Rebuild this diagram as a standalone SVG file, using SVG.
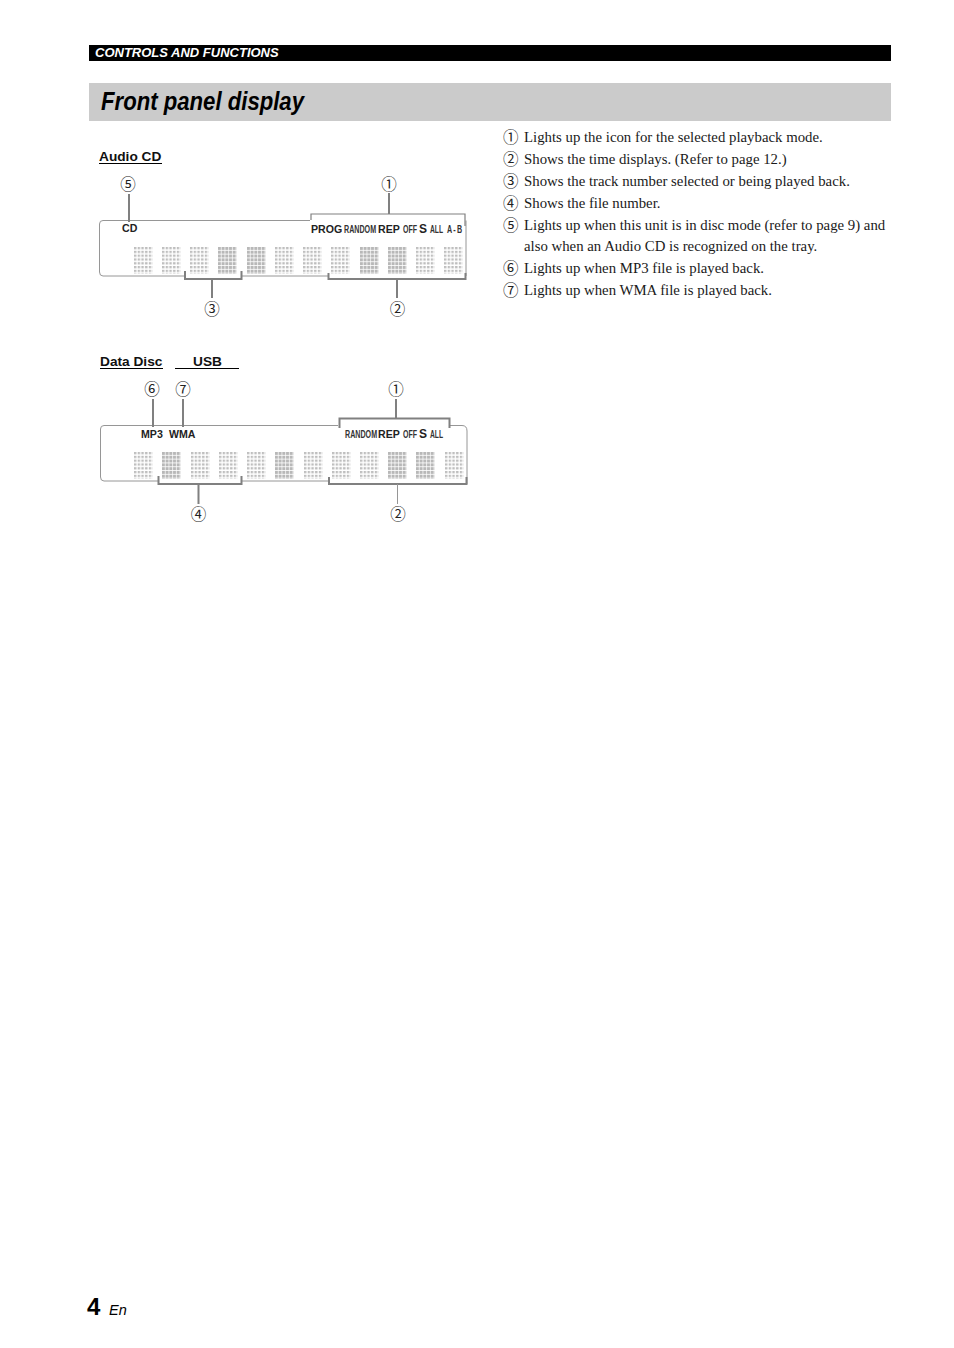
<svg xmlns="http://www.w3.org/2000/svg" width="954" height="1348" viewBox="0 0 954 1348">
<style>
text{font-family:"Liberation Sans",Arial,sans-serif;fill:#000}
.body{font-family:"Liberation Serif","Times New Roman",serif;font-size:14.8px;fill:#1a1a1a}
.num{font-family:"Noto Sans CJK JP",sans-serif;font-size:15.5px;fill:#222}
.cal{font-family:"Noto Sans CJK JP",sans-serif;font-size:15.5px;fill:#222;text-anchor:middle}
.head{font-size:13.7px;font-weight:bold;fill:#111}
.ic{font-weight:bold;fill:#222;font-size:10.6px}
.s{font-weight:bold;fill:#222;font-size:12px}
.nar{font-weight:bold;fill:#333;font-size:10.5px}
.panel{fill:none;stroke:#969696;stroke-width:1}
.thin{fill:none;stroke:#808080;stroke-width:1.200}
.br{fill:none;stroke:#808080;stroke-width:2}
.ul{stroke:#000;stroke-width:1}
</style>
<defs>
<pattern id="dots" width="3.7" height="3.8" patternUnits="userSpaceOnUse"><rect width="2.4" height="2.3" fill="#bebebe"/></pattern>
<pattern id="dense" width="3.7" height="3.8" patternUnits="userSpaceOnUse"><rect width="3" height="3" fill="#b8b8b8"/></pattern>
<rect id="g" width="18.5" height="27" fill="url(#dots)"/>
<rect id="d" width="18.5" height="27" fill="url(#dense)"/>
</defs>
<g id="header">
<rect x="89" y="45" width="802" height="16" fill="#000"/>
<text x="95" y="57" font-size="13" font-weight="bold" font-style="italic" style="fill:#fff">CONTROLS AND FUNCTIONS</text>
<rect x="89" y="83" width="802" height="38" fill="#cbcbcb"/>
<text x="101" y="110" font-size="25" font-weight="bold" font-style="italic" textLength="203" lengthAdjust="spacingAndGlyphs">Front panel display</text>
</g>
<g id="descriptions">
<text class="num" x="503" y="143">①</text><text class="body" x="524" y="142">Lights up the icon for the selected playback mode.</text>
<text class="num" x="503" y="165">②</text><text class="body" x="524" y="164">Shows the time displays. (Refer to page 12.)</text>
<text class="num" x="503" y="187">③</text><text class="body" x="524" y="186">Shows the track number selected or being played back.</text>
<text class="num" x="503" y="209">④</text><text class="body" x="524" y="208">Shows the file number.</text>
<text class="num" x="503" y="231">⑤</text><text class="body" x="524" y="230">Lights up when this unit is in disc mode (refer to page 9) and</text>
<text class="body" x="524" y="251">also when an Audio CD is recognized on the tray.</text>
<text class="num" x="503" y="274">⑥</text><text class="body" x="524" y="273">Lights up when MP3 file is played back.</text>
<text class="num" x="503" y="296">⑦</text><text class="body" x="524" y="295">Lights up when WMA file is played back.</text>
</g>
<g id="audio-cd">
<text class="head" x="99" y="161">Audio CD</text>
<line class="ul" x1="99" y1="163.500" x2="162" y2="163.500"/>
<path class="panel" d="M310 220.500H103Q99.500 220.500 99.500 224V272Q99.500 276 103 276H184M242 276H328M466 276V220.500"/>
<g>
<use href="#g" x="134" y="247"/><use href="#g" x="162" y="247"/><use href="#g" x="190" y="247"/><use href="#d" x="218" y="247"/><use href="#d" x="247" y="247"/><use href="#g" x="275" y="247"/><use href="#g" x="303" y="247"/><use href="#g" x="331" y="247"/><use href="#d" x="360" y="247"/><use href="#d" x="388" y="247"/><use href="#g" x="416" y="247"/><use href="#g" x="444" y="247"/>
</g>
<text class="ic" x="122" y="232">CD</text>
<text class="ic" x="311" y="232.500">PROG</text>
<text class="nar" transform="translate(344 232.500) scale(.68 1)">RANDOM</text>
<text class="ic" x="378" y="232.500">REP</text>
<text class="nar" transform="translate(403 232.500) scale(.67 1)">OFF</text>
<text class="s" x="419" y="233">S</text>
<text class="nar" transform="translate(430 232.500) scale(.64 1)">ALL</text>
<text class="nar" transform="translate(447 232.500) scale(.68 1)" letter-spacing="1.800">A-B</text>
<text class="cal" x="128" y="190">⑤</text>
<text class="cal" x="389" y="190">①</text>
<text class="cal" x="212" y="315">③</text>
<text class="cal" x="397.500" y="315">②</text>
</g>
<g id="data-disc">
<text class="head" x="100" y="366">Data Disc</text>
<line class="ul" x1="100" y1="368.500" x2="163" y2="368.500"/>
<text class="head" x="193" y="366">USB</text>
<line class="ul" x1="175" y1="368.500" x2="239" y2="368.500"/>
<path class="panel" d="M338 425.500H104Q100.500 425.500 100.500 429V477Q100.500 481 104 481H158M242 481H328M450 425.500H462Q467 425.500 467 431V484"/>
<g>
<use href="#g" x="134" y="452"/><use href="#d" x="162" y="452"/><use href="#g" x="191" y="452"/><use href="#g" x="219" y="452"/><use href="#g" x="247" y="452"/><use href="#d" x="275" y="452"/><use href="#g" x="304" y="452"/><use href="#g" x="332" y="452"/><use href="#g" x="360" y="452"/><use href="#d" x="388" y="452"/><use href="#d" x="416" y="452"/><use href="#g" x="445" y="452"/>
</g>
<text class="ic" x="141" y="437.500">MP3</text>
<text class="ic" x="169" y="437.500">WMA</text>
<text class="nar" transform="translate(345 437.500) scale(.68 1)">RANDOM</text>
<text class="ic" x="378" y="437.500">REP</text>
<text class="nar" transform="translate(403 437.500) scale(.67 1)">OFF</text>
<text class="s" x="419" y="438">S</text>
<text class="nar" transform="translate(430 437.500) scale(.64 1)">ALL</text>
<text class="cal" x="152" y="395">⑥</text>
<text class="cal" x="183" y="395">⑦</text>
<text class="cal" x="396" y="395">①</text>
<text class="cal" x="198.500" y="520">④</text>
<text class="cal" x="398" y="520">②</text>
</g>
<g id="connectors">
<path class="br" d="M129 194V222"/>
<path class="thin" d="M311 220V214H465V226"/><path class="br" d="M389 193V214"/>
<path class="br" d="M185 271V279H241.500V271M212 279V298"/>
<path class="br" d="M328.500 273V279H465.500V273M397 279V298"/>
<path class="br" d="M153 399V427"/>
<path class="br" d="M183 399V427"/>
<path class="br" d="M339.500 428V418.500H449.500V428M396 399V418"/>
<path class="br" d="M158.500 476V484H241.500V476M198.500 484V504"/>
<path class="br" d="M329 477V484H466.500V477"/><path class="panel" d="M397.500 484V504"/>
</g>
<g id="footer">
<text x="87" y="1315" font-size="24" font-weight="bold">4</text>
<text x="109" y="1315" font-size="14.500" font-style="italic">En</text>
</g>
</svg>
